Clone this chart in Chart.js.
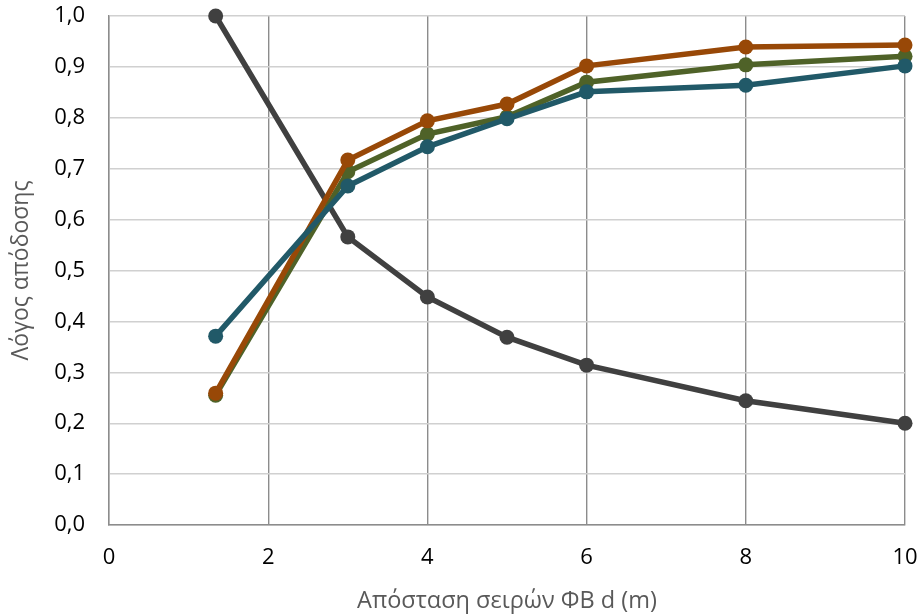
<!DOCTYPE html>
<html>
<head>
<meta charset="utf-8">
<script src="https://cdn.jsdelivr.net/npm/chart.js@4"></script>
<style>
  html, body { margin: 0; padding: 0; background: #fff; }
  #wrap { width: 923px; height: 615px; }
</style>
</head>
<body>
<div id="wrap"><canvas id="chart" width="923" height="615"></canvas></div>
<script>
// distances d (m)
const distances = [1.34, 3, 4, 5, 6, 8, 10];

// values
const greySeries = [1.0, 0.566, 0.448, 0.369, 0.314, 0.244, 0.200];
const orangeSeries = [0.259, 0.717, 0.794, 0.827, 0.902, 0.939, 0.943];
const greenSeries = [0.255, 0.694, 0.768, 0.802, 0.870, 0.904, 0.921];
const tealSeries = [0.371, 0.666, 0.743, 0.798, 0.851, 0.864, 0.902];

const xTitle = "Απόσταση σειρών ΦΒ d (m)";
const yTitle = "Λόγος απόδοσης";

const font = "'Open Sans', 'Noto Sans', sans-serif";

function toPoints(vals) {
    return distances.map((d, i) => ({ x: d, y: vals[i] }));
}

function makeSet(vals, color, order) {
    return {
        data: toPoints(vals),
        borderColor: color,
        backgroundColor: color,
        borderWidth: 5.5,
        pointRadius: 7.5,
        pointHoverRadius: 7.5,
        pointBorderWidth: 0,
        tension: 0,
        clip: false,
        order: order,
    };
}

// no extra room for overhanging tick labels, the layout padding decides
function noOverhang(scale) {
    scale.paddingTop = 0;
    scale.paddingBottom = 0;
    scale.paddingLeft = 0;
    scale.paddingRight = 0;
}

const ctx = document.getElementById("chart").getContext("2d");
new Chart(ctx, {
    type: "line",
    data: {
        datasets: [
            makeSet(greySeries, "#404040", 4),
            makeSet(greenSeries, "#4f6228", 3),
            makeSet(orangeSeries, "#984807", 2),
            makeSet(tealSeries, "#215968", 1),
        ],
    },
    options: {
        responsive: false,
        animation: false,
        layout: { padding: { top: 16, right: 18, left: 8, bottom: 0 } },
        plugins: { legend: { display: false }, tooltip: { enabled: false } },
        scales: {
            x: {
                type: "linear",
                min: 0,
                max: 10,
                ticks: {
                    stepSize: 2,
                    color: "#000",
                    font: { family: font, size: 22 },
                    padding: 20,
                },
                grid: { color: "#8c8c8c", lineWidth: 1.4, drawTicks: false },
                border: { color: "#8c8c8c", width: 1.4 },
                title: {
                    display: true,
                    text: xTitle,
                    color: "#595959",
                    font: { family: font, size: 23.5 },
                    padding: { top: 2, bottom: 0 },
                },
                afterFit: (scale) => { noOverhang(scale); scale.height = 90; },
            },
            y: {
                min: 0,
                max: 1,
                ticks: {
                    stepSize: 0.1,
                    color: "#000",
                    font: { family: font, size: 22 },
                    padding: 24,
                    callback: (v) => v.toFixed(1).replace(".", ","),
                },
                grid: { color: "#d0d0d0", lineWidth: 1.4, drawTicks: false },
                border: { color: "#8c8c8c", width: 1.4 },
                title: {
                    display: true,
                    text: yTitle,
                    color: "#595959",
                    font: { family: font, size: 23 },
                    padding: { top: 0, bottom: 0 },
                },
                afterFit: (scale) => { noOverhang(scale); scale.width = 101; },
            },
        },
    },
});
</script>
</body>
</html>
